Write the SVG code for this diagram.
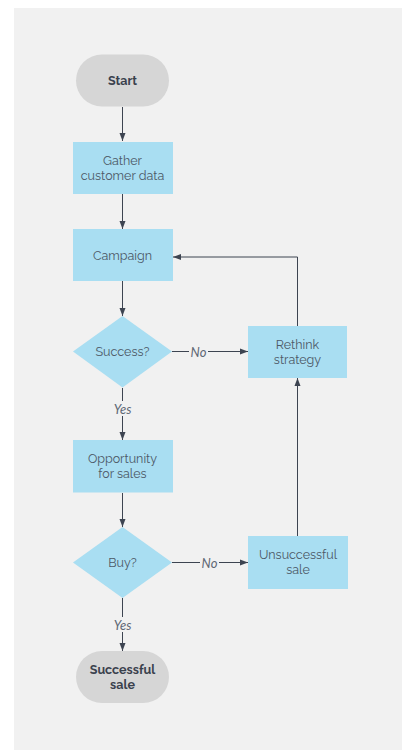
<svg xmlns="http://www.w3.org/2000/svg" width="402" height="751" viewBox="0 0 402 751">
  <defs>
    <marker id="arrow" viewBox="0 0 8 8" refX="8" refY="4" markerWidth="8" markerHeight="8" markerUnits="userSpaceOnUse" orient="auto">
      <path d="M0,1 L8,4 L0,7 Z" fill="#3d4451"/>
    </marker>
    <style>
      .terminal { fill: #d6d6d6; }
      .process { fill: #a9def2; }
      .label { font-family: Raleway, Lato, "Open Sans", sans-serif; font-size: 12.5px; fill: #4c5866; text-anchor: middle; }
      .bold { font-weight: bold; fill: #3a414d; }
      .edge { fill: none; stroke: #3d4451; stroke-width: 1; }
      .edge-label { font-family: Lato, "Open Sans", sans-serif; font-size: 13px; font-style: italic; fill: #5f6875; text-anchor: middle; }
      .label-bg { fill: #f1f1f1; }
    </style>
  </defs>

  <rect x="14" y="8" width="388" height="742" fill="#f1f1f1"/>

  <g id="connectors">
    <path class="edge" d="M122.5,107 V141" marker-end="url(#arrow)"/>
    <path class="edge" d="M122.5,194 V229" marker-end="url(#arrow)"/>
    <path class="edge" d="M122.5,281 V316" marker-end="url(#arrow)"/>
    <path class="edge" d="M122.5,388 V440" marker-end="url(#arrow)"/>
    <path class="edge" d="M122.5,493 V527" marker-end="url(#arrow)"/>
    <path class="edge" d="M122.5,598 V651" marker-end="url(#arrow)"/>
    <path class="edge" d="M172,351.5 H248" marker-end="url(#arrow)"/>
    <path class="edge" d="M172,562.5 H248" marker-end="url(#arrow)"/>
    <path class="edge" d="M297.5,536 V378" marker-end="url(#arrow)"/>
    <path class="edge" d="M297.5,326 V257 H173" marker-end="url(#arrow)"/>

    <rect class="label-bg" x="111" y="401" width="23" height="15"/>
    <text class="edge-label" x="122.5" y="413.5">Yes</text>
    <rect class="label-bg" x="189" y="344" width="19" height="15"/>
    <text class="edge-label" x="198.5" y="356.5">No</text>
    <rect class="label-bg" x="111" y="617" width="23" height="15"/>
    <text class="edge-label" x="122.5" y="629.5">Yes</text>
    <rect class="label-bg" x="200" y="555" width="19" height="15"/>
    <text class="edge-label" x="209.5" y="567.5">No</text>
  </g>

  <g id="start">
    <rect class="terminal" x="76" y="54.5" width="93" height="52" rx="26"/>
    <text class="label bold" x="122.5" y="85">Start</text>
  </g>

  <g id="gather">
    <rect class="process" x="73" y="142" width="100" height="52"/>
    <text class="label" x="122.5" y="165">Gather</text>
    <text class="label" x="122.5" y="180">customer data</text>
  </g>

  <g id="campaign">
    <rect class="process" x="73" y="229" width="100" height="52"/>
    <text class="label" x="122.5" y="260">Campaign</text>
  </g>

  <g id="success">
    <polygon class="process" points="122.5,316 172,351.5 122.5,387.5 73,351.5"/>
    <text class="label" x="122.5" y="356">Success?</text>
  </g>

  <g id="rethink">
    <rect class="process" x="248" y="326" width="99" height="52"/>
    <text class="label" x="297.5" y="349">Rethink</text>
    <text class="label" x="297.5" y="364">strategy</text>
  </g>

  <g id="opportunity">
    <rect class="process" x="73" y="440" width="100" height="52.5"/>
    <text class="label" x="122.5" y="463">Opportunity</text>
    <text class="label" x="122.5" y="478">for sales</text>
  </g>

  <g id="buy">
    <polygon class="process" points="122.5,527 172,562.5 122.5,598 73,562.5"/>
    <text class="label" x="122.5" y="567">Buy?</text>
  </g>

  <g id="unsuccessful">
    <rect class="process" x="248" y="536" width="100" height="53"/>
    <text class="label" x="298" y="559">Unsuccessful</text>
    <text class="label" x="298" y="574">sale</text>
  </g>

  <g id="successful">
    <rect class="terminal" x="76" y="651" width="93" height="52" rx="26"/>
    <text class="label bold" x="122.5" y="674">Successful</text>
    <text class="label bold" x="122.5" y="689">sale</text>
  </g>
</svg>
